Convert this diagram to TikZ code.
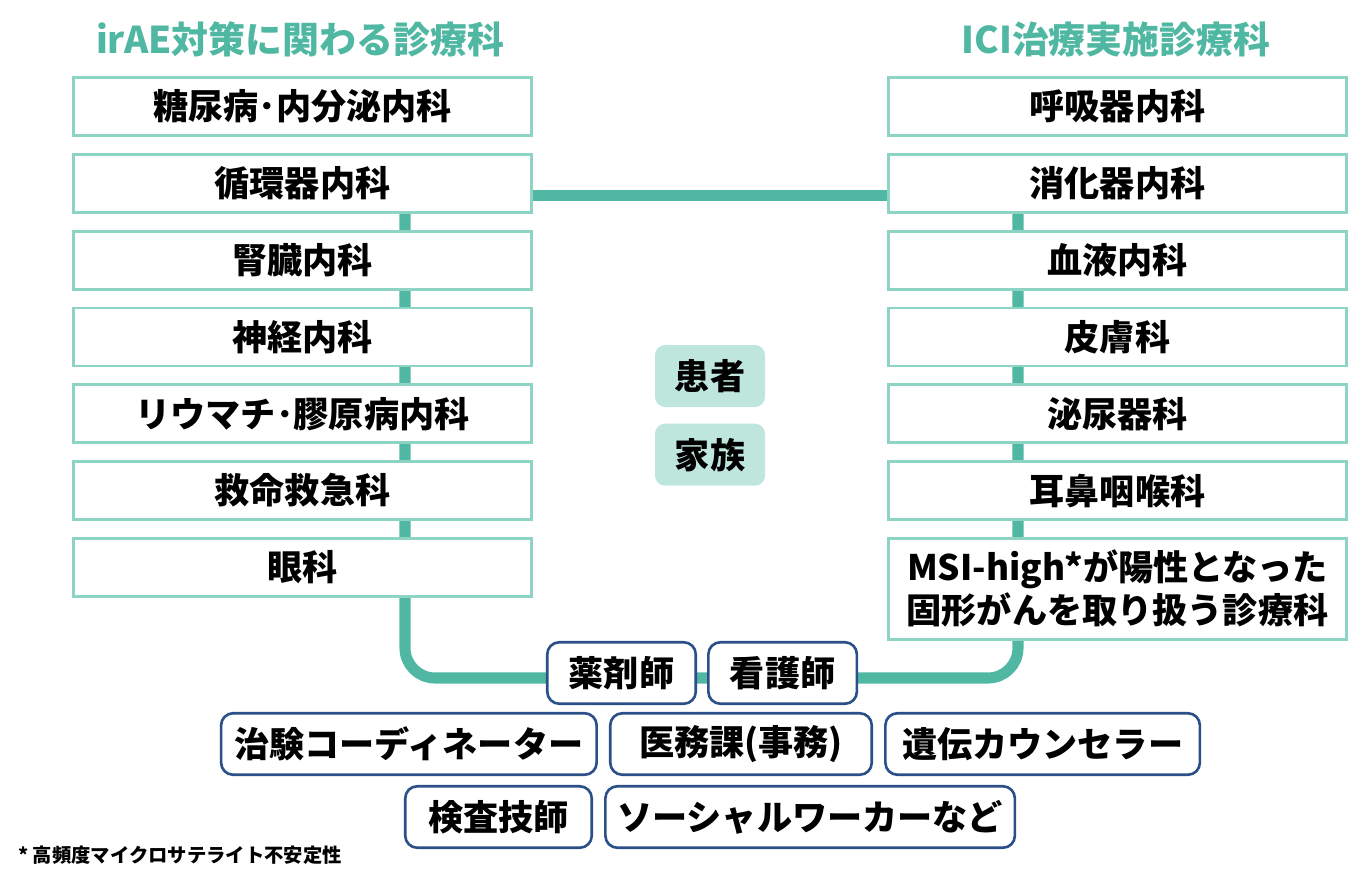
\documentclass[tikz,border=0pt]{standalone}
\usepackage{fontspec}
\setmainfont{Noto Sans CJK JP}
\usetikzlibrary{positioning,backgrounds}
\definecolor{lineteal}{HTML}{50B8A2}
\definecolor{boxteal}{HTML}{8ED4C5}
\definecolor{paleteal}{HTML}{BFE6DD}
\definecolor{staffblue}{HTML}{2B5088}
\begin{document}
\begin{tikzpicture}[
  node distance=0.32cm,
  dept/.style={draw=boxteal, line width=1.6pt, fill=white, minimum width=9.16cm, minimum height=1.16cm, align=center, inner sep=0pt, font=\fontsize{20}{24.5}\selectfont\bfseries},
  head/.style={text=lineteal, font=\fontsize{21}{25}\selectfont\bfseries},
  party/.style={fill=paleteal, rounded corners=0.2cm, minimum width=2.2cm, minimum height=1.24cm, inner sep=0pt, font=\fontsize{20}{24}\selectfont\bfseries},
  staff/.style={draw=staffblue, line width=1.5pt, fill=white, rounded corners=0.24cm, minimum height=1.23cm, inner sep=0pt, font=\fontsize{20}{24}\selectfont\bfseries},
  link/.style={draw=lineteal, line width=6.3pt}
]
\useasboundingbox (0,0) rectangle (27.04,-17.58);
% headers
\node[head] (lhead) at (6.0,-0.78) {irAE対策に関わる診療科};
\node[head] (rhead) at (22.32,-0.78) {ICI治療実施診療科};
% irAE side
\node[dept] (l1) at (6.05,-2.13) {糖尿病･内分泌内科};
\node[dept, below=of l1] (l2) {循環器内科};
\node[dept, below=of l2] (l3) {腎臓内科};
\node[dept, below=of l3] (l4) {神経内科};
\node[dept, below=of l4] (l5) {リウマチ･膠原病内科};
\node[dept, below=of l5] (l6) {救命救急科};
\node[dept, below=of l6] (l7) {眼科};
% ICI side
\node[dept] (r1) at (22.35,-2.13) {呼吸器内科};
\node[dept, below=of r1] (r2) {消化器内科};
\node[dept, below=of r2] (r3) {血液内科};
\node[dept, below=of r3] (r4) {皮膚科};
\node[dept, below=of r4] (r5) {泌尿器科};
\node[dept, below=of r5] (r6) {耳鼻咽喉科};
\node[dept, below=of r6, minimum height=2.02cm] (r7) {MSI-high*が陽性となった\\固形がんを取り扱う診療科};
% patient and family
\node[party] (patient) at (14.2,-7.52) {患者};
\node[party, below=of patient] (family) {家族};
% staff
\node[staff, minimum width=2.97cm] (pharm) at (12.43,-13.46) {薬剤師};
\node[staff, minimum width=2.97cm, right=0.2cm of pharm] (nurse) {看護師};
\node[staff, minimum width=5.23cm] (office) at (14.82,-14.88) {医務課(事務)};
\node[staff, minimum width=7.51cm, left=0.22cm of office] (crc) {治験コーディネーター};
\node[staff, minimum width=6.29cm, right=0.22cm of office] (counsel) {遺伝カウンセラー};
\node[staff, minimum width=3.73cm] (lab) at (9.97,-16.34) {検査技師};
\node[staff, minimum width=8.19cm, right=0.22cm of lab] (social) {ソーシャルワーカーなど};
\node[anchor=west, font=\fontsize{11}{13}\selectfont\bfseries] (note) at (0.24,-17.1) {* 高頻度マイクロサテライト不安定性};
% connectors
\coordinate (lbend) at (8.1,-13.56);
\coordinate (rbend) at (20.36,-13.56);
\begin{scope}[on background layer]
\draw[link] ([yshift=-0.24cm]l2.east) -- ([yshift=-0.24cm]r2.west);
\draw[link, rounded corners=0.6cm] (l2.south -| lbend) -- (lbend) -- (rbend) -- (r2.south -| rbend);
\end{scope}
\end{tikzpicture}
\end{document}
